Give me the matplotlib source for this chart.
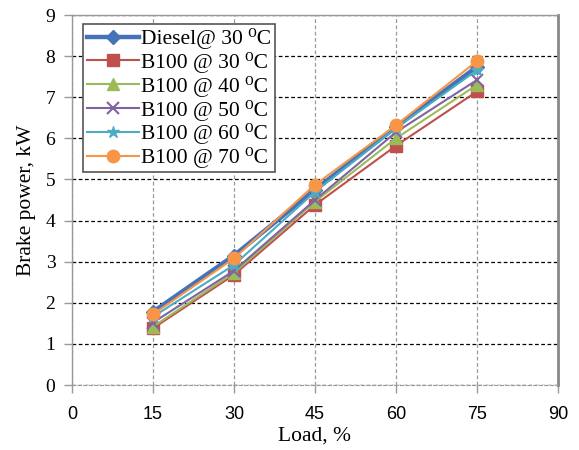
import matplotlib
matplotlib.use("Agg")
import matplotlib.pyplot as plt

plt.rcParams['font.family'] = ['Liberation Serif', 'DejaVu Serif']

load = [15, 30, 45, 60, 75]
diesel_30 = [1.78, 3.15, 4.75, 6.28, 7.74]
b100_30 = [1.38, 2.68, 4.38, 5.82, 7.14]
b100_40 = [1.42, 2.73, 4.46, 6.0, 7.3]
b100_50 = [1.52, 2.78, 4.5, 6.15, 7.42]
b100_60 = [1.66, 2.92, 4.7, 6.25, 7.66]
b100_70 = [1.72, 3.08, 4.87, 6.32, 7.88]

labels = ["Diesel@ 30 \u2070C", "B100 @ 30 \u2070C", "B100 @ 40 \u2070C",
          "B100 @ 50 \u2070C", "B100 @ 60 \u2070C", "B100 @ 70 \u2070C"]
xticks = [0, 15, 30, 45, 60, 75, 90]
yticks = list(range(0, 10))

fig = plt.figure(figsize=(5.79, 4.5), dpi=100)
ax = fig.add_axes([72/579, 65/450, 486/579, 370/450])

series = [diesel_30, b100_30, b100_40, b100_50, b100_60, b100_70]
colors = ['#4572B8', '#C0504D', '#9BBB59', '#8064A2', '#4BACC6', '#F79646']
markers = ['D', 's', '^', 'x', '*', 'o']
lws = [3.2, 1.5, 1.5, 1.5, 1.5, 1.5]
msizes = [7, 8, 8, 8, 9, 9]
for i in range(6):
    mew = 1.5 if markers[i] == 'x' else 1.0
    ax.plot(load, series[i], color=colors[i], marker=markers[i], lw=lws[i],
            ms=msizes[i], mew=mew, label=labels[i], zorder=3 + i * 0.1)

ax.set_xlim(0, 90)
ax.set_ylim(0, 9)
ax.set_xticks(xticks)
ax.set_yticks(yticks)
ax.set_xticklabels([str(v) for v in xticks], fontfamily='Liberation Sans', fontsize=13)
ax.set_yticklabels([str(v) for v in yticks], fontsize=14)

ax.yaxis.grid(True, linestyle=(0, (3, 2)), color='black', lw=0.9)
ax.xaxis.grid(True, linestyle=(0, (3, 2)), color='#999999', lw=0.9)
ax.set_axisbelow(True)

for s in ['left', 'top']:
    ax.spines[s].set_color('#999999')
    ax.spines[s].set_linewidth(1.0)
ax.spines['right'].set_color('#888888')
ax.spines['right'].set_linewidth(2.0)
ax.spines['bottom'].set_color('#999999')
ax.spines['bottom'].set_linestyle((0, (3, 2)))
ax.tick_params(axis='both', direction='out', length=6, color='#999999', width=1, pad=6)
ax.tick_params(axis='x', pad=9)

ax.set_xlabel("Load, %", fontsize=15.5, labelpad=3)
ax.set_ylabel("Brake power, kW", fontsize=15.5, labelpad=7)

leg = ax.legend(loc='upper left', bbox_to_anchor=(0.022, 0.976), fontsize=15.5,
                frameon=True, fancybox=False, edgecolor='#555555', framealpha=1,
                handlelength=2.4, handletextpad=0.1, labelspacing=0.13,
                borderpad=0.2, borderaxespad=0)
leg.get_frame().set_linewidth(1.2)

fig.savefig("out.png", dpi=100)
